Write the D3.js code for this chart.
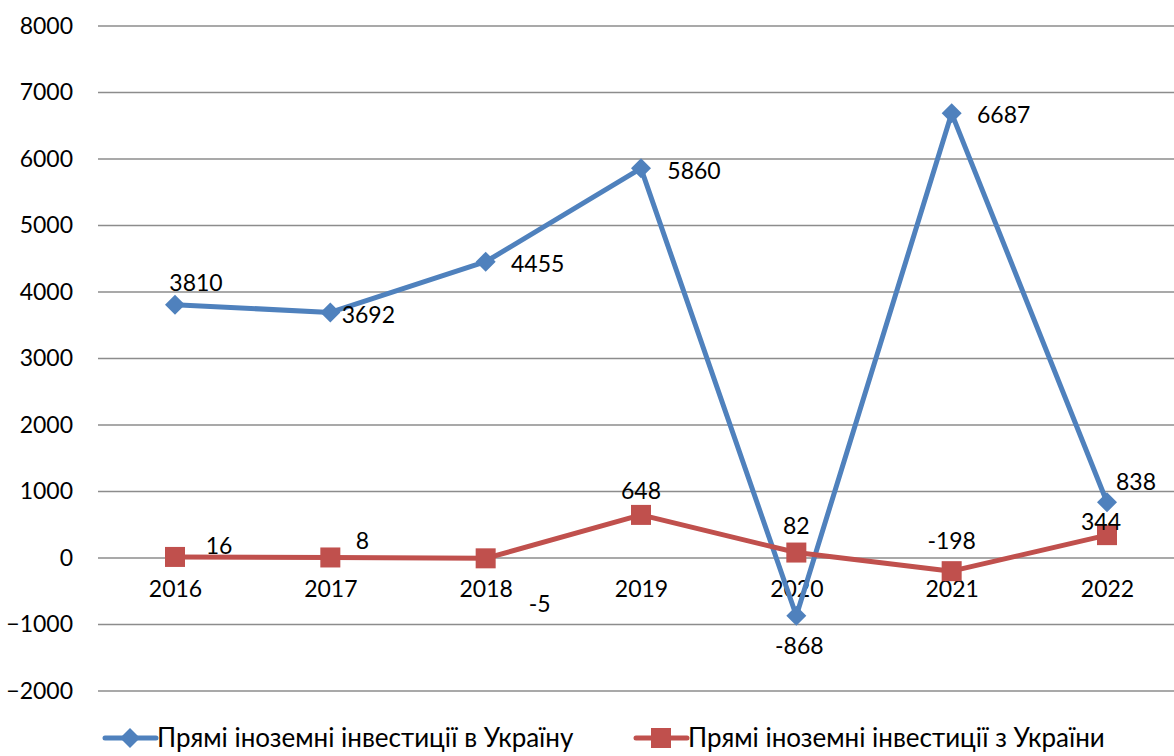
<!DOCTYPE html>
<html>
<head>
<meta charset="utf-8">
<script src="https://cdn.jsdelivr.net/npm/d3@7"></script>
<style>
body { margin: 0; background: #fff; }
svg { font-family: Lato, "Open Sans", sans-serif; }
</style>
</head>
<body>
<svg class="myChart" width="1174" height="756"></svg>
<script>
const years = ["2016", "2017", "2018", "2019", "2020", "2021", "2022"];
const intoUkraine = [3810, 3692, 4455, 5860, -868, 6687, 838];
const fromUkraine = [16, 8, -5, 648, 82, -198, 344];
const yTicks = [8000, 7000, 6000, 5000, 4000, 3000, 2000, 1000, 0, -1000, -2000];
const seriesNames = ["Прямі іноземні інвестиції в Україну", "Прямі іноземні інвестиції з України"];

// label offsets (dx, dy) relative to each point
const blueLabelPos = [[21, -22], [38, 2], [52, 2], [53, 3], [3, 30], [52, 2], [29, -20]];
const redLabelPos = [[44, -11], [32, -17], [54, 46], [0, -24], [0, -27], [0, -30], [-6, -13]];

const svg = d3.select('svg.myChart');
const margin = {left: 98, top: 26};

const xScale = d3.scalePoint()
	.domain(years)
	.range([175, 1107]);

const yScale = d3.scaleLinear()
	.domain([-2000, 8000])
	.range([691, 26]);

const g = svg.append('g');

// grid lines
g.selectAll('.grid').data(yTicks)
	.enter().append('line')
	.attr('x1', margin.left)
	.attr('x2', 1174)
	.attr('y1', d => yScale(d))
	.attr('y2', d => yScale(d))
	.attr('stroke', '#8c8c8c')
	.attr('stroke-width', 1.5);

const yAxis = d3.axisLeft(yScale).tickValues(yTicks).tickSize(0).tickPadding(0).tickFormat(d3.format('d'));
g.append('g')
	.attr('transform', 'translate(73,0)')
	.call(yAxis)
	.call(a => a.select('.domain').remove())
	.selectAll('text')
	.attr('font-size', '23px')
	.attr('font-family', 'Lato, sans-serif')
	.attr('fill', '#000');

const xAxis = d3.axisBottom(xScale).tickSize(0).tickPadding(23);
g.append('g')
	.attr('transform', `translate(0,${yScale(0)})`)
	.call(xAxis)
	.call(a => a.select('.domain').remove())
	.selectAll('text')
	.attr('font-size', '23px')
	.attr('font-family', 'Lato, sans-serif')
	.attr('fill', '#000');

const line = d3.line()
	.x((d, i) => xScale(years[i]))
	.y(d => yScale(d));

const blue = '#4f81bd', red = '#c0504d';

g.append('path').datum(intoUkraine)
	.attr('d', line).attr('fill', 'none')
	.attr('stroke', blue).attr('stroke-width', 5).attr('stroke-linejoin', 'round');

g.append('path').datum(fromUkraine)
	.attr('d', line).attr('fill', 'none')
	.attr('stroke', red).attr('stroke-width', 5).attr('stroke-linejoin', 'round');

const diamond = d3.symbol().type(d3.symbolSquare).size(200);

g.selectAll('.bm').data(intoUkraine)
	.enter().append('path')
	.attr('d', diamond)
	.attr('transform', (d, i) => `translate(${xScale(years[i])},${yScale(d)}) rotate(45)`)
	.attr('fill', blue);

g.selectAll('.rm').data(fromUkraine)
	.enter().append('rect')
	.attr('x', (d, i) => xScale(years[i]) - 10)
	.attr('y', d => yScale(d) - 10)
	.attr('width', 20).attr('height', 20)
	.attr('fill', red);

g.selectAll('.bl').data(intoUkraine)
	.enter().append('text')
	.text(d => d)
	.attr('x', (d, i) => xScale(years[i]) + blueLabelPos[i][0])
	.attr('y', (d, i) => yScale(d) + blueLabelPos[i][1])
	.attr('dy', '0.35em')
	.attr('text-anchor', 'middle')
	.attr('font-size', '23px');

g.selectAll('.rl').data(fromUkraine)
	.enter().append('text')
	.text(d => d)
	.attr('x', (d, i) => xScale(years[i]) + redLabelPos[i][0])
	.attr('y', (d, i) => yScale(d) + redLabelPos[i][1])
	.attr('dy', '0.35em')
	.attr('text-anchor', 'middle')
	.attr('font-size', '23px');

// legend
const legend = svg.append('g');
const legendItems = [
	{name: seriesNames[0], color: blue, x: 105, marker: 'diamond'},
	{name: seriesNames[1], color: red, x: 636, marker: 'square'}
];
legendItems.forEach(it => {
	const lg = legend.append('g').attr('transform', `translate(${it.x},738)`);
	lg.append('line').attr('x1', 0).attr('x2', 51).attr('y1', 0).attr('y2', 0)
		.attr('stroke', it.color).attr('stroke-width', 5).attr('stroke-linecap', 'round');
	if (it.marker === 'diamond') {
		lg.append('path').attr('d', diamond).attr('transform', 'translate(25,0) rotate(45)').attr('fill', it.color);
	} else {
		lg.append('rect').attr('x', 15).attr('y', -10).attr('width', 20).attr('height', 20).attr('fill', it.color);
	}
	lg.append('text').text(it.name).attr('x', 52).attr('dy', '0.35em')
		.attr('font-size', '26px');
});
</script>
</body>
</html>
